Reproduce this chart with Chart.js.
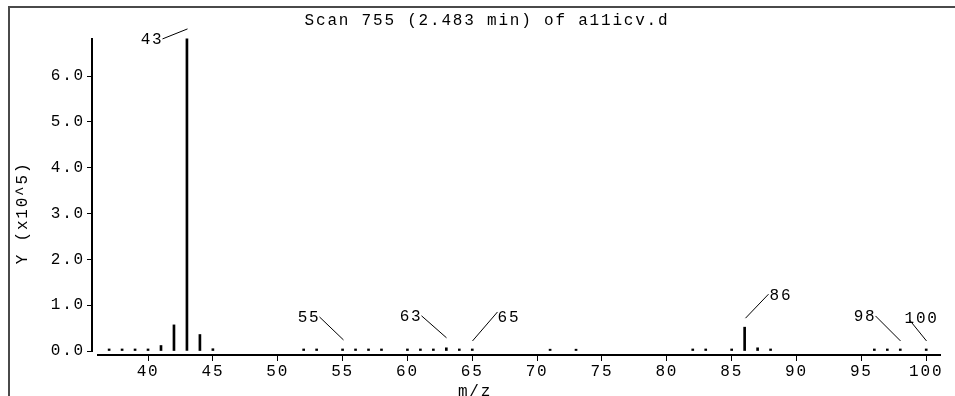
<!DOCTYPE html>
<html>
<head>
<meta charset="utf-8">
<title>Scan 755</title>
<script src="https://cdn.jsdelivr.net/npm/chart.js@4"></script>
<style>
    html, body { margin: 0; padding: 0; background: #fff; }
    #wrap { width: 955px; height: 396px; overflow: hidden; }
</style>
</head>
<body>
<div id="wrap"><canvas id="spectrum" width="955" height="396"></canvas></div>
<script>
// spectrum data, intensity in units of 10^5
const massValues = [37, 38, 39, 40, 41, 42, 43, 44, 45,
    52, 53, 55, 56, 57, 58, 60, 61, 62, 63, 64, 65, 71, 73,
    82, 83, 85, 86, 87, 88, 96, 97, 98, 100];
const intensities = [0.045, 0.045, 0.045, 0.045, 0.12, 0.57, 6.81, 0.36, 0.05,
    0.045, 0.045, 0.045, 0.045, 0.045, 0.045, 0.045, 0.045, 0.045, 0.07, 0.045, 0.045, 0.04, 0.04,
    0.045, 0.045, 0.045, 0.52, 0.07, 0.045, 0.045, 0.045, 0.045, 0.045];
const xTicks = [40, 45, 50, 55, 60, 65, 70, 75, 80, 85, 90, 95, 100];
const yTicks = [0, 1, 2, 3, 4, 5, 6];
const peakLabels = [43, 55, 63, 65, 86, 98, 100];

const chartTitle = 'Scan 755 (2.483 min) of a11icv.d';
const xTitle = 'm/z';
const yTitle = 'Y (x10^5)';

// leader line offsets for the peak labels (same order as peakLabels)
const leaders = [
    { gap: 10, dx: -25, dy: 10, align: 'right', tx: 1, ty: 5 },
    { gap: 9, dx: -24, dy: -23, align: 'right', tx: 1, ty: 5 },
    { gap: 10, dx: -25, dy: -22, align: 'right', tx: 1, ty: 5 },
    { gap: 8, dx: 25, dy: -29, align: 'left', tx: 0, ty: 10 },
    { gap: 9, dx: 23, dy: -24, align: 'left', tx: 1, ty: 6 },
    { gap: 8, dx: -25, dy: -25, align: 'right', tx: 1, ty: 5 },
    { gap: 8, dx: -17, dy: -21, align: 'left', tx: -5, ty: 3 }
];

const FAMILY = '"Liberation Mono", "DejaVu Sans Mono", monospace';
const FONT = '16px ' + FAMILY;
const SPACING = '1.8px';

const decorations = {
    id: 'decorations',
    beforeDraw(chart) {
        const ctx = chart.ctx;
        ctx.fillStyle = '#fff';
        ctx.fillRect(0, 0, chart.width, chart.height);
        // frame around the plot window
        ctx.fillStyle = '#4a4a4a';
        ctx.fillRect(8, 6, chart.width - 8, 2);
        ctx.fillRect(8, 6, 2, chart.height - 6);
        ctx.letterSpacing = SPACING; // wide monospace look of the original
    },
    afterDraw(chart) {
        const ctx = chart.ctx;
        const xs = chart.scales.x, ys = chart.scales.y;
        const area = chart.chartArea;
        ctx.save();
        ctx.letterSpacing = SPACING;
        ctx.fillStyle = '#000';
        ctx.strokeStyle = '#000';

        // axis lines
        const zeroY = Math.round(ys.getPixelForValue(0));
        ctx.fillRect(area.left - 1, area.top, 2, zeroY - area.top + 1);
        ctx.fillRect(area.left + 5, area.bottom - 1, area.right - area.left - 5, 2);

        ctx.font = FONT;
        ctx.textBaseline = 'alphabetic';
        ctx.textAlign = 'center';
        ctx.fillText(chartTitle, 487, 25);
        ctx.fillText(xTitle, 475, 396);

        ctx.save();
        ctx.translate(23, 213);
        ctx.rotate(-Math.PI / 2);
        ctx.textBaseline = 'middle';
        ctx.fillText(yTitle, 0, 0);
        ctx.restore();

        // peak labels with leader lines
        ctx.lineWidth = 1;
        peakLabels.forEach((m, i) => {
            const idx = massValues.indexOf(m);
            const px = Math.round(xs.getPixelForValue(m)) + 0.5;
            const py = ys.getPixelForValue(intensities[idx]);
            const l = leaders[i];
            const y0 = py - l.gap;
            const x1 = px + l.dx, y1 = y0 + l.dy;
            ctx.beginPath();
            ctx.moveTo(px, y0);
            ctx.lineTo(x1, y1);
            ctx.stroke();
            ctx.textAlign = l.align;
            ctx.fillText(String(m), x1 + l.tx, y1 + l.ty);
        });
        ctx.restore();
    }
};

const ctx = document.getElementById('spectrum').getContext('2d');
new Chart(ctx, {
    type: 'bar',
    data: {
        datasets: [{
            data: massValues.map((m, i) => ({ x: m, y: intensities[i] })),
            backgroundColor: '#000',
            borderWidth: 0,
            barThickness: 2
        }]
    },
    options: {
        responsive: false,
        animation: false,
        devicePixelRatio: 1,
        layout: { padding: { left: 0, top: 38, right: 14, bottom: 0 } },
        plugins: {
            legend: { display: false },
            title: { display: false },
            tooltip: { enabled: false }
        },
        scales: {
            x: {
                type: 'linear',
                offset: false,
                min: 35.68,
                max: 101.14,
                afterBuildTicks: scale => { scale.ticks = xTicks.map(v => ({ value: v })); },
                afterFit: scale => {
                    scale.height = 41;
                    scale.paddingLeft = 0;
                    scale.paddingRight = 0;
                },
                grid: { offset: false, drawOnChartArea: false, drawTicks: true, tickLength: 6, color: '#000', lineWidth: 1 },
                border: { display: false },
                ticks: {
                    autoSkip: false,
                    maxRotation: 0,
                    padding: 1,
                    color: '#000',
                    font: { family: FAMILY, size: 16 },
                    callback: v => String(v)
                }
            },
            y: {
                min: -0.087,
                max: 6.83,
                afterBuildTicks: scale => { scale.ticks = yTicks.map(v => ({ value: v })); },
                afterFit: scale => {
                    scale.width = 92;
                    scale.paddingTop = 0;
                    scale.paddingBottom = 0;
                },
                grid: { drawOnChartArea: false, drawTicks: true, tickLength: 5, color: '#000', lineWidth: 1 },
                border: { display: false },
                ticks: {
                    padding: 2,
                    color: '#000',
                    font: { family: FAMILY, size: 16 },
                    callback: v => v.toFixed(1)
                }
            }
        }
    },
    plugins: [decorations]
});
</script>
</body>
</html>
